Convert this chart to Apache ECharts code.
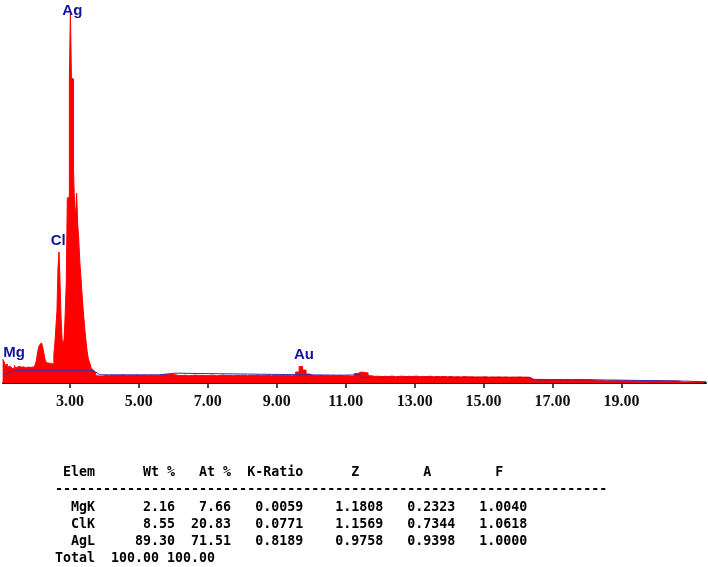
<!DOCTYPE html>
<html><head><meta charset="utf-8">
<script src="https://cdn.jsdelivr.net/npm/echarts@6/dist/echarts.min.js"></script>
<style>html,body{margin:0;padding:0;background:#fff}#c{width:708px;height:567px}</style>
</head><body><div id="c"></div>
<script>
// Spectrum, low-energy region (keV) and counts
const peakEnergy = [
1.05,1.08,1.11,1.14,1.17,1.20,1.23,1.26,1.29,1.32,
1.35,1.38,1.41,1.44,1.47,1.50,1.53,1.56,1.59,1.62,
1.65,1.68,1.71,1.74,1.77,1.80,1.83,1.86,1.89,1.92,
1.95,1.98,2.01,2.04,2.07,2.10,2.13,2.16,2.19,2.22,
2.25,2.28,2.31,2.34,2.37,2.40,2.43,2.46,2.49,2.52,
2.55,2.58,2.61,2.64,2.67,2.70,2.73,2.76,2.79,2.82,
2.85,2.88,2.91,2.94,2.97,3.00,3.03,3.06,3.09,3.12,
3.15,3.18,3.21,3.24,3.27,3.30,3.33,3.36,3.39,3.42,
3.45,3.48,3.51,3.54,3.57,3.60,3.63,3.66,3.69,3.72,
3.75,3.78,3.81,3.84,3.87];
const peakCounts = [
240,240,210,175,190,150,170,140,165,145,
160,150,175,148,160,150,165,145,158,150,
162,148,155,150,160,145,155,150,158,152,
160,170,185,220,290,340,380,400,395,370,
320,260,215,200,190,198,205,195,200,185,
280,400,560,720,1150,1310,1000,640,430,380,
450,700,1000,1850,1860,3050,3710,3050,3040,2130,
1780,1680,1900,1600,1450,1230,1080,930,780,650,
530,430,330,260,220,190,150,130,120,110,
90,70,65,72,68];
// Spectrum, high-energy region
const tailEnergy = [
3.9,4.0,4.1,4.2,4.3,4.4,4.5,4.6,4.7,4.8,
4.9,5.0,5.1,5.2,5.3,5.4,5.5,5.6,5.7,5.8,
5.9,6.0,6.1,6.2,6.3,6.4,6.5,6.6,6.7,6.8,
6.9,7.0,7.1,7.2,7.3,7.4,7.5,7.6,7.7,7.8,
7.9,8.0,8.1,8.2,8.3,8.4,8.5,8.6,8.7,8.8,
8.9,9.0,9.1,9.2,9.3,9.4,9.5,9.6,9.7,9.8,
9.9,10.0,10.1,10.2,10.3,10.4,10.5,10.6,10.7,10.8,
10.9,11.0,11.1,11.2,11.3,11.4,11.5,11.6,11.7,11.8,
11.9,12.0,12.1,12.2,12.3,12.4,12.5,12.6,12.7,12.8,
12.9,13.0,13.1,13.2,13.3,13.4,13.5,13.6,13.7,13.8,
13.9,14.0,14.1,14.2,14.3,14.4,14.5,14.6,14.7,14.8,
14.9,15.0,15.1,15.2,15.3,15.4,15.5,15.6,15.7,15.8,
15.9,16.0,16.1,16.2,16.3,16.4,16.5,16.6,16.7,16.8,
16.9,17.0,17.1,17.2,17.3,17.4,17.5,17.6,17.7,17.8,
17.9,18.0,18.1,18.2,18.3,18.4,18.5,18.6,18.7,18.8,
18.9,19.0,19.1,19.2,19.3,19.4,19.5,19.6,19.7,19.8,
19.9,20.0,20.1,20.2,20.3,20.4,20.5,20.6,20.7,20.8,
20.9,21.0,21.1,21.2,21.3,21.4];
const tailCounts = [
70,75,72,78,74,76,80,73,77,75,
79,74,76,73,78,75,77,80,86,84,
88,82,76,74,78,72,76,79,74,77,
73,76,78,72,75,79,74,76,73,77,
75,78,72,76,74,79,73,75,77,72,
76,74,78,73,75,72,78,110,165,130,
90,74,72,76,73,75,71,74,72,76,
70,73,68,70,95,110,105,100,72,66,
68,64,67,65,69,63,66,68,64,67,
65,69,63,66,64,68,62,65,63,66,
62,64,61,63,60,64,61,62,59,61,
60,62,58,60,59,61,58,60,57,59,
58,60,57,58,56,38,35,37,34,36,
33,35,34,36,33,35,32,34,33,35,
32,33,31,26,22,24,21,23,22,24,
21,23,22,20,22,21,23,20,22,21,
20,22,19,21,20,19,20,18,8,7,
8,7,6,7,6,6];
// Background fit
const bgEnergy = [1.06,1.25,1.40,3.68,3.75,3.87,5.60,5.65,6.05,6.10,10.85,10.90,11.40,11.45,16.35,16.40,18.17,18.22,20.61,20.66,21.45];
const bgCounts = [80,105,123,123,110,82,82,98,98,78,78,82,82,56,56,32,32,21,21,12,12];
// Axis ticks
const tickValues = [3,5,7,9,11,13,15,17,19];
// Peak labels
const peakNames = ['Mg','Cl','Ag','Au'];
const peakLabelEnergy = [1.38,2.66,3.07,9.79];
const peakLabelCounts = [300,1420,3720,280];
// Quant table
const tableHeader = ['Elem','Wt %','At %','K-Ratio','Z','A','F'];
const tableElems = ['MgK','ClK','AgL'];
const wtPct = ['2.16','8.55','89.30'];
const atPct = ['7.66','20.83','71.51'];
const kRatio = ['0.0059','0.0771','0.8189'];
const zCorr = ['1.1808','1.1569','0.9758'];
const aCorr = ['0.2323','0.7344','0.9398'];
const fCorr = ['1.0040','1.0618','1.0000'];
const totalRow = ['Total','100.00','100.00'];

const spectrum = peakEnergy.map((e,i)=>[e,peakCounts[i]]).concat(tailEnergy.map((e,i)=>[e,tailCounts[i]]));
const bgLine = bgEnergy.map((e,i)=>[e,bgCounts[i]]);
const labelPts = peakNames.map((n,i)=>({name:n,value:[peakLabelEnergy[i],peakLabelCounts[i]]}));

const headerLine = tableHeader[0].padStart(5) + tableHeader[1].padStart(10) + tableHeader[2].padStart(7) +
  tableHeader[3].padStart(9) + tableHeader[4].padStart(7).padEnd(10) + tableHeader[5].padStart(6).padEnd(9) + tableHeader[6].padStart(6);
const dashLine = '-'.repeat(69);
const rowLines = tableElems.map((el,i)=> el.padStart(5) + wtPct[i].padStart(10) + atPct[i].padStart(7) +
  kRatio[i].padStart(9) + zCorr[i].padStart(10) + aCorr[i].padStart(9) + fCorr[i].padStart(9));
const totalLine = totalRow[0] + '  ' + totalRow[1] + ' ' + totalRow[2];
const tableLines = [headerLine, dashLine].concat(rowLines, [totalLine]);
const lineY = [473, 490, 508, 525, 542, 559];

const chart = echarts.init(document.getElementById('c'), null, {renderer:'canvas'});
chart.setOption({
  animation:false,
  backgroundColor:'#ffffff',
  grid:{left:3,right:2,top:3,bottom:184,containLabel:false},
  xAxis:{type:'value',min:1.06,max:21.45,offset:4,
    axisLine:{show:true,lineStyle:{color:'#111',width:2}},
    axisTick:{show:true,customValues:tickValues,length:5,lineStyle:{color:'#111',width:1.5}},
    axisLabel:{show:true,customValues:tickValues,formatter:v=>Number(v).toFixed(2),
      fontFamily:'Liberation Serif',fontWeight:'bold',fontSize:16,color:'#111',margin:7},
    splitLine:{show:false}},
  yAxis:{type:'value',min:0,max:3800,show:false,splitLine:{show:false}},
  series:[
    {type:'line',data:spectrum,step:'middle',symbol:'none',clip:true,
     lineStyle:{color:'#ff0000',width:1},areaStyle:{color:'#ff0000',opacity:1},z:2},
    {type:'line',data:bgLine,symbol:'none',clip:true,
     lineStyle:{color:'#3a2ab0',width:1},z:3},
    {type:'scatter',data:labelPts,symbolSize:0,z:4,itemStyle:{opacity:1},
     label:{show:true,position:'inside',formatter:p=>p.name,color:'#1212a0',opacity:1,
       fontFamily:'Liberation Sans',fontWeight:'bold',fontSize:15}}
  ],
  graphic:tableLines.map((t,i)=>({type:'text',x:55,y:lineY[i],silent:true,
    style:{text:t,font:'bold 13.3px "DejaVu Sans Mono"',fill:'#000',align:'left',verticalAlign:'middle'}}))
});
</script></body></html>
